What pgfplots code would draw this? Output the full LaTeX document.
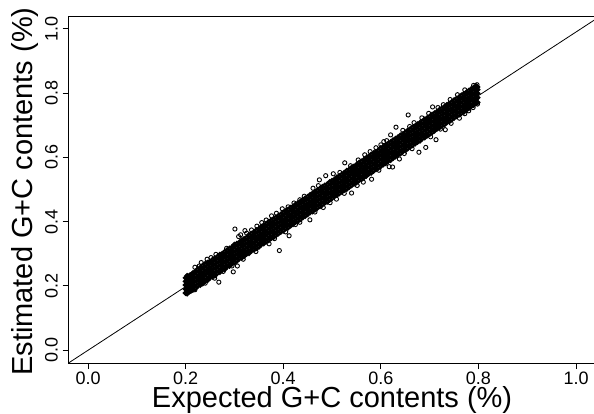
\documentclass[border=0pt]{standalone}
\usepackage{pgfplots}
\usepackage{pgfplotstable}
\usepackage{fontspec}
\setmainfont{Liberation Sans}
\pgfplotsset{compat=1.18}
\pgfplotstableread{
x y1 y2 y3 y4 y5
0.200 0.178 0.190 0.203 0.214 0.225
0.203 0.176 0.192 0.201 0.216 0.231
0.206 0.181 0.189 0.207 0.219 0.228
0.209 0.184 0.196 0.209 0.221 0.233
0.212 0.186 0.198 0.213 0.224 0.235
0.215 0.188 0.201 0.214 0.228 0.240
0.220 0.193 0.207 0.221 0.233 0.244
0.225 0.200 0.212 0.224 0.239 0.252
0.230 0.203 0.216 0.231 0.243 0.256
0.235 0.208 0.222 0.236 0.249 0.263
0.240 0.215 0.226 0.241 0.253 0.268
0.245 0.218 0.232 0.244 0.259 0.272
0.250 0.226 0.237 0.251 0.263 0.275
0.255 0.229 0.241 0.256 0.268 0.281
0.260 0.232 0.247 0.259 0.274 0.286
0.265 0.240 0.252 0.266 0.278 0.290
0.270 0.243 0.256 0.271 0.283 0.297
0.275 0.250 0.262 0.274 0.289 0.300
0.280 0.252 0.267 0.281 0.293 0.306
0.285 0.260 0.271 0.286 0.298 0.311
0.290 0.262 0.277 0.289 0.304 0.316
0.295 0.270 0.282 0.296 0.308 0.320
0.300 0.273 0.286 0.301 0.313 0.328
0.305 0.278 0.292 0.304 0.319 0.331
0.310 0.285 0.297 0.311 0.323 0.335
0.315 0.288 0.301 0.316 0.328 0.342
0.320 0.293 0.307 0.319 0.334 0.346
0.325 0.300 0.312 0.326 0.338 0.350
0.330 0.302 0.316 0.331 0.343 0.358
0.335 0.310 0.322 0.334 0.349 0.362
0.340 0.313 0.327 0.341 0.353 0.367
0.345 0.318 0.331 0.346 0.359 0.373
0.350 0.322 0.337 0.349 0.364 0.377
0.355 0.329 0.342 0.356 0.368 0.384
0.360 0.332 0.346 0.361 0.374 0.388
0.365 0.338 0.352 0.364 0.379 0.393
0.370 0.342 0.357 0.371 0.384 0.399
0.375 0.349 0.361 0.376 0.388 0.403
0.380 0.352 0.367 0.379 0.394 0.407
0.385 0.358 0.372 0.386 0.399 0.413
0.390 0.363 0.376 0.391 0.403 0.418
0.395 0.368 0.382 0.394 0.409 0.422
0.400 0.372 0.387 0.401 0.414 0.428
0.405 0.379 0.391 0.406 0.418 0.433
0.410 0.382 0.397 0.409 0.424 0.437
0.415 0.388 0.402 0.416 0.428 0.443
0.420 0.392 0.407 0.421 0.434 0.447
0.425 0.399 0.411 0.426 0.438 0.453
0.430 0.402 0.417 0.429 0.444 0.457
0.435 0.408 0.422 0.436 0.449 0.462
0.440 0.413 0.426 0.441 0.453 0.468
0.445 0.418 0.432 0.444 0.459 0.472
0.450 0.423 0.437 0.451 0.464 0.477
0.455 0.429 0.441 0.456 0.468 0.483
0.460 0.432 0.447 0.459 0.474 0.487
0.465 0.438 0.452 0.466 0.478 0.493
0.470 0.443 0.456 0.471 0.484 0.497
0.475 0.448 0.462 0.474 0.489 0.502
0.480 0.453 0.467 0.481 0.493 0.508
0.485 0.459 0.471 0.486 0.498 0.512
0.490 0.462 0.477 0.489 0.504 0.516
0.495 0.468 0.482 0.496 0.508 0.523
0.500 0.473 0.486 0.501 0.513 0.527
0.505 0.479 0.492 0.504 0.519 0.531
0.510 0.483 0.497 0.511 0.523 0.538
0.515 0.488 0.501 0.516 0.529 0.541
0.520 0.493 0.507 0.519 0.534 0.547
0.525 0.499 0.512 0.526 0.538 0.552
0.530 0.502 0.516 0.531 0.543 0.558
0.535 0.508 0.522 0.534 0.549 0.562
0.540 0.513 0.527 0.541 0.553 0.568
0.545 0.518 0.531 0.546 0.559 0.571
0.550 0.522 0.537 0.549 0.564 0.577
0.555 0.529 0.542 0.556 0.568 0.583
0.560 0.532 0.546 0.561 0.574 0.587
0.565 0.538 0.552 0.564 0.579 0.592
0.570 0.542 0.557 0.571 0.583 0.598
0.575 0.549 0.561 0.576 0.588 0.602
0.580 0.552 0.567 0.579 0.594 0.608
0.585 0.558 0.572 0.586 0.598 0.613
0.590 0.563 0.576 0.591 0.604 0.617
0.595 0.568 0.582 0.594 0.609 0.622
0.600 0.573 0.587 0.601 0.613 0.629
0.605 0.578 0.591 0.606 0.619 0.632
0.610 0.582 0.597 0.609 0.624 0.637
0.615 0.589 0.602 0.616 0.628 0.643
0.620 0.592 0.606 0.621 0.634 0.647
0.625 0.598 0.612 0.624 0.639 0.653
0.630 0.603 0.617 0.631 0.643 0.658
0.635 0.608 0.621 0.636 0.648 0.662
0.640 0.612 0.627 0.639 0.654 0.668
0.645 0.619 0.632 0.646 0.658 0.672
0.650 0.622 0.636 0.651 0.664 0.677
0.655 0.628 0.642 0.654 0.669 0.683
0.660 0.633 0.647 0.661 0.673 0.688
0.665 0.638 0.651 0.666 0.678 0.692
0.670 0.643 0.657 0.669 0.684 0.697
0.675 0.648 0.662 0.676 0.688 0.703
0.680 0.652 0.666 0.681 0.694 0.707
0.685 0.659 0.672 0.684 0.699 0.712
0.690 0.662 0.677 0.691 0.703 0.718
0.695 0.668 0.681 0.696 0.708 0.722
0.700 0.673 0.687 0.699 0.714 0.727
0.705 0.678 0.692 0.706 0.718 0.733
0.710 0.683 0.696 0.711 0.724 0.737
0.715 0.689 0.702 0.714 0.729 0.742
0.720 0.693 0.707 0.721 0.733 0.748
0.725 0.698 0.711 0.726 0.738 0.752
0.730 0.702 0.717 0.729 0.744 0.757
0.735 0.709 0.722 0.736 0.748 0.763
0.740 0.712 0.726 0.741 0.754 0.767
0.745 0.718 0.732 0.744 0.759 0.772
0.750 0.723 0.737 0.751 0.763 0.778
0.755 0.728 0.741 0.756 0.768 0.782
0.760 0.733 0.747 0.759 0.774 0.787
0.765 0.738 0.752 0.766 0.778 0.793
0.770 0.742 0.756 0.771 0.784 0.797
0.775 0.748 0.762 0.774 0.789 0.802
0.780 0.753 0.767 0.781 0.793 0.807
0.785 0.759 0.771 0.786 0.798 0.812
0.790 0.763 0.777 0.789 0.804 0.817
0.795 0.769 0.782 0.796 0.808 0.822
0.798 0.771 0.786 0.799 0.811 0.819
}\band
\pgfplotstableread{
x y
0.301 0.377
0.3215 0.372
0.3086 0.3536
0.3127 0.359
0.325 0.364
0.392 0.310
0.412 0.356
0.2976 0.2437
0.268 0.2116
0.306 0.262
0.232 0.2727
0.204 0.231
0.244 0.283
0.2595 0.224
0.371 0.331
0.656 0.732
0.631 0.694
0.620 0.670
0.659 0.696
0.713 0.655
0.692 0.631
0.678 0.616
0.732 0.686
0.761 0.722
0.706 0.757
0.728 0.764
0.526 0.583
0.487 0.543
0.474 0.530
0.540 0.489
0.624 0.570
0.638 0.595
0.564 0.523
0.797 0.826
0.790 0.824
0.798 0.766
0.789 0.755
0.606 0.649
0.600 0.639
0.567 0.608
0.5536 0.592
0.5025 0.549
0.461 0.504
0.434 0.468
0.410 0.446
0.4546 0.4056
0.482 0.444
0.581 0.532
0.617 0.571
0.434 0.398
0.496 0.459
0.509 0.470
0.5515 0.5125
0.344 0.307
0.219 0.258
0.284 0.317
0.356 0.397
0.376 0.418
0.277 0.245
0.219 0.188
0.240 0.2085
0.262 0.298
0.252 0.288
0.228 0.262
0.295 0.262
0.318 0.283
0.335 0.374
0.346 0.386
0.365 0.405
0.386 0.426
0.398 0.440
0.422 0.458
0.443 0.479
0.472 0.512
0.516 0.553
0.538 0.574
0.578 0.618
0.590 0.630
0.612 0.652
0.645 0.684
0.668 0.708
0.684 0.723
0.698 0.737
0.717 0.755
0.742 0.780
0.757 0.795
0.772 0.810
0.382 0.347
0.405 0.368
0.425 0.391
0.465 0.430
0.525 0.488
0.596 0.560
0.648 0.612
0.664 0.627
0.702 0.664
0.722 0.688
0.744 0.706
0.772 0.736
0.780 0.745
}\outliers
\begin{document}
\begin{tikzpicture}[x=1pt,y=1pt]
\useasboundingbox (0,0) rectangle (594,413);
\begin{axis}[
  at={(68.5pt,50pt)}, anchor=south west,
  scale only axis, width=527.1pt, height=347pt,
  xmin=-0.04, xmax=1.04, ymin=-0.04, ymax=1.04,
  xtick={0,0.2,0.4,0.6,0.8,1.0}, ytick={0,0.2,0.4,0.6,0.8,1.0},
  tick align=outside, xtick pos=bottom, ytick pos=left,
  major tick length=6pt,
  tick style={black, line width=0.8pt},
  axis line style={line width=0.9pt},
  /pgf/number format/assume math mode=true,
  /pgf/number format/fixed, /pgf/number format/fixed zerofill, /pgf/number format/precision=1,
  ticklabel style={font=\fontsize{18}{20}\selectfont, inner sep=0pt},
  xticklabel style={yshift=-3pt},
  yticklabel style={rotate=90, anchor=south, yshift=4.5pt},
  xlabel={Expected G+C contents (\%)},
  ylabel={Estimated G+C contents (\%)},
  every axis x label/.style={at={(axis description cs:0.5,-0.1288)}, anchor=base, inner sep=0pt, font=\fontsize{29}{32}\selectfont},
  every axis y label/.style={at={(axis description cs:-0.0692,0.494)}, anchor=base, inner sep=0pt, rotate=90, font=\fontsize{29}{32}\selectfont},
]
\addplot[black, line width=0.8pt, no marks] coordinates {(-0.04,-0.04) (1.04,1.03)};
\addplot[only marks, mark=o, mark size=1.8pt, mark options={line width=2pt, black}] table[x=x,y=y1] {\band};
\addplot[only marks, mark=o, mark size=1.8pt, mark options={line width=2pt, black}] table[x=x,y=y2] {\band};
\addplot[only marks, mark=o, mark size=1.8pt, mark options={line width=2pt, black}] table[x=x,y=y3] {\band};
\addplot[only marks, mark=o, mark size=1.8pt, mark options={line width=2pt, black}] table[x=x,y=y4] {\band};
\addplot[only marks, mark=o, mark size=1.8pt, mark options={line width=2pt, black}] table[x=x,y=y5] {\band};
\addplot[only marks, mark=o, mark size=2.1pt, mark options={line width=0.9pt, black}] table[x=x,y=y] {\outliers};
\end{axis}
\end{tikzpicture}
\end{document}
